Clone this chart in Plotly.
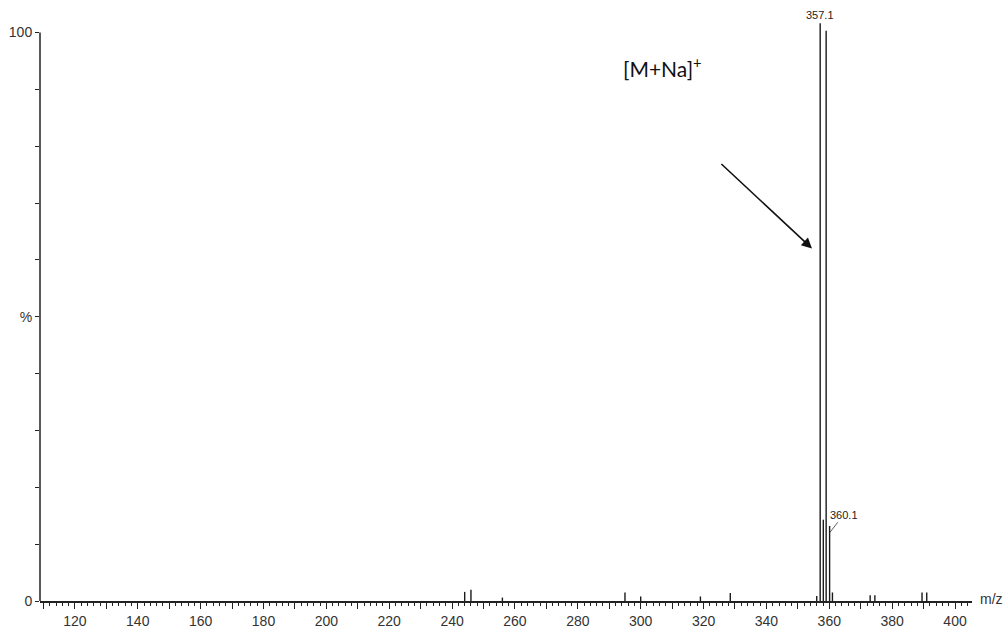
import plotly.graph_objects as go

# Peak list (m/z, relative intensity %)
mz = [244.0, 246.0, 256.0, 295.0, 300.0, 319.0, 328.5, 356.0, 357.1, 358.1, 359.0, 360.1, 361.0,
      373.0, 374.5, 389.5, 391.0]
intensity = [1.6, 2.0, 0.6, 1.5, 0.8, 0.8, 1.4, 0.9, 101.6, 14.3, 100.3, 13.2, 1.5,
             1.0, 1.0, 1.5, 1.5]

x_major = list(range(110, 401, 10))
x_labels = [str(v) if v % 20 == 0 else "" for v in x_major]
y_ticks = list(range(0, 101, 10))
y_labels = ["0", "", "", "", "", "%", "", "", "", "", "100"]

xs, ys = [], []
for m, h in zip(mz, intensity):
    xs += [m, m, None]
    ys += [0, h, None]

fig = go.Figure()
fig.add_trace(go.Scatter(x=xs, y=ys, mode="lines",
                         line=dict(color="#1a1a1a", width=1.4),
                         hoverinfo="skip", showlegend=False))

font_ax = dict(family="Liberation Sans, Arial, sans-serif", size=14, color="#333")

fig.update_layout(
    width=1005, height=633,
    margin=dict(l=40, r=33, t=4, b=22),
    paper_bgcolor="white", plot_bgcolor="white",
    xaxis=dict(range=[108.9, 405.4], tickmode="array", tickvals=x_major, ticktext=x_labels,
               ticks="outside", ticklen=6, tickwidth=1, tickcolor="#222",
               minor=dict(dtick=2, ticks="outside", ticklen=3, tickcolor="#222", showgrid=False),
               showline=True, linecolor="#222", linewidth=1.5, showgrid=False, zeroline=False,
               tickfont=font_ax),
    yaxis=dict(range=[0, 105], tickmode="array", tickvals=y_ticks, ticktext=y_labels,
               ticks="outside", ticklen=4, tickwidth=1, tickcolor="#222",
               showline=False, showgrid=False, zeroline=False, tickfont=font_ax),
)

fig.add_shape(type="line", xref="paper", yref="y", x0=0, x1=0, y0=0, y1=100,
              line=dict(color="#222", width=1.5))

fig.add_annotation(x=357.1, y=101.6, text="357.1", showarrow=False, yanchor="bottom",
                   yshift=0, font=dict(family="Liberation Sans, Arial", size=11, color="#222"))
fig.add_annotation(x=360.1, y=12.0, text="360.1", showarrow=True, arrowhead=0, arrowwidth=0.8,
                   arrowcolor="#333", ax=14, ay=-18,
                   font=dict(family="Liberation Sans, Arial", size=11, color="#222"))
fig.add_annotation(xref="paper", yref="y", x=1.0, y=0, xanchor="left", yanchor="middle",
                   xshift=6, yshift=2, text="m/z", showarrow=False, font=font_ax)

fig.add_annotation(x=306.8, y=94.0, text="[M+Na]<sup>+</sup>", showarrow=False,
                   font=dict(family="Lato, Open Sans, sans-serif", size=21, color="#111"))
fig.add_annotation(x=354.5, y=62.0, ax=325.2, ay=77.1, axref="x", ayref="y",
                   text="", showarrow=True, arrowhead=2, arrowsize=1.3, arrowwidth=1.6,
                   arrowcolor="#111")

fig.write_html("out.html")
